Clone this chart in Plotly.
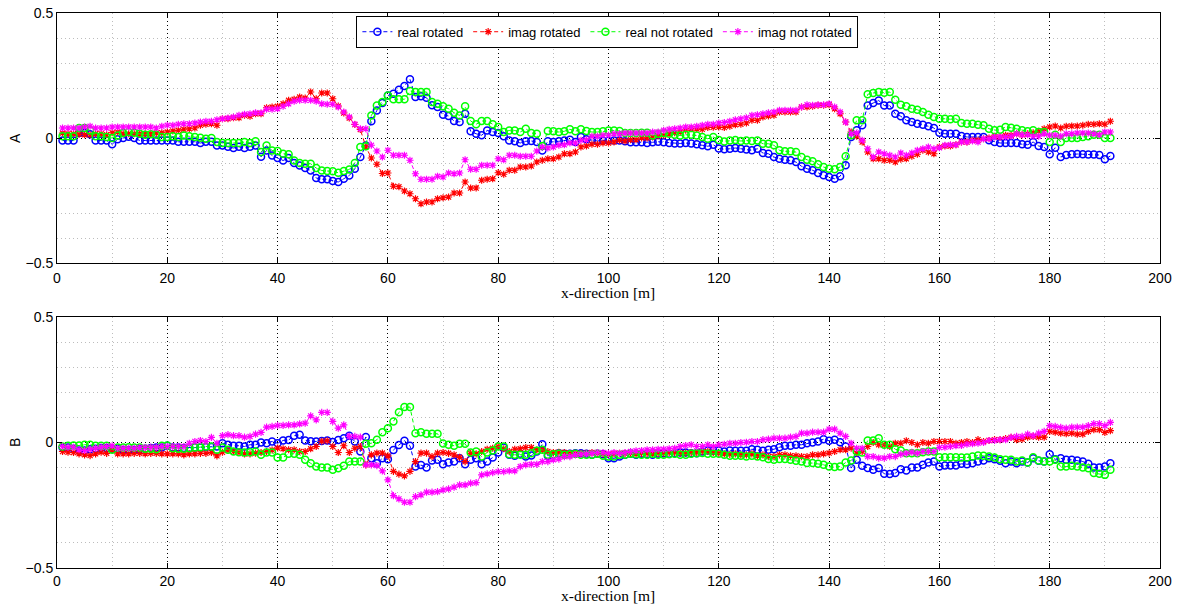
import plotly.graph_objects as go
from plotly.subplots import make_subplots

x_pos = list(range(1, 192))

# ---------------- Panel A ----------------
a_real_rot = [
    -0.01, -0.01, -0.01, 0.02, 0.02, 0.015, -0.01, -0.01, -0.01, -0.025,
    -0.005, 0.0, 0.005, 0.0, -0.01, -0.01, -0.01, -0.01, -0.01, -0.01,
    -0.01, -0.015, -0.015, -0.015, -0.015, -0.02, -0.015, -0.015, -0.03, -0.03,
    -0.035, -0.04, -0.035, -0.04, -0.035, -0.03, -0.075, -0.05, -0.07, -0.08,
    -0.09, -0.08, -0.1, -0.11, -0.12, -0.13, -0.16, -0.165, -0.165, -0.172,
    -0.176, -0.163, -0.15, -0.123, -0.076, -0.03, 0.067, 0.11, 0.14, 0.17,
    0.177, 0.193, 0.208, 0.235, 0.164, 0.167, 0.161, 0.131, 0.124, 0.093,
    0.088, 0.068, 0.064, 0.097, 0.027, 0.017, 0.011, 0.03, 0.024, 0.02,
    0.007, -0.01, -0.013, -0.02, -0.013, -0.012, -0.016, -0.05, -0.013, -0.016,
    -0.013, -0.01, -0.007, -0.016, 0.004, -0.005, -0.007, -0.012, -0.01, -0.01,
    -0.01, -0.01, -0.013, -0.017, -0.017, -0.017, -0.02, -0.017, -0.015, -0.017,
    -0.02, -0.022, -0.022, -0.02, -0.022, -0.025, -0.029, -0.033, -0.027, -0.042,
    -0.045, -0.043, -0.04, -0.043, -0.046, -0.049, -0.043, -0.06, -0.063, -0.076,
    -0.083, -0.087, -0.089, -0.096, -0.113, -0.123, -0.129, -0.14, -0.149, -0.156,
    -0.163, -0.153, -0.109, 0.004, 0.031, 0.051, 0.13, 0.14, 0.15, 0.13,
    0.13, 0.097, 0.087, 0.071, 0.064, 0.057, 0.053, 0.047, 0.04, 0.021,
    0.017, 0.017, 0.017, 0.008, 0.004, 0.004, 0.004, 0.004, -0.009, -0.016,
    -0.02, -0.02, -0.02, -0.02, -0.025, -0.027, -0.016, -0.032, -0.036, -0.065,
    -0.039, -0.076, -0.068, -0.065, -0.064, -0.065, -0.066, -0.066, -0.068, -0.085, -0.072,
]
a_imag_rot = [
    0.02, 0.017, 0.017, 0.015, 0.013, 0.013, 0.017, 0.017, 0.013, 0.021,
    0.024, 0.017, 0.017, 0.017, 0.017, 0.017, 0.017, 0.02, 0.021, 0.024,
    0.028, 0.031, 0.035, 0.037, 0.04, 0.051, 0.055, 0.057, 0.051, 0.077,
    0.077, 0.081, 0.081, 0.091, 0.087, 0.097, 0.097, 0.121, 0.124, 0.127,
    0.137, 0.151, 0.155, 0.164, 0.16, 0.184, 0.157, 0.18, 0.18, 0.157,
    0.128, 0.1, 0.08, 0.054, 0.034, -0.035, -0.08, -0.105, -0.142, -0.14,
    -0.193, -0.195, -0.212, -0.223, -0.243, -0.263, -0.256, -0.256, -0.243, -0.239,
    -0.236, -0.22, -0.22, -0.176, -0.2, -0.2, -0.169, -0.165, -0.163, -0.139,
    -0.145, -0.129, -0.129, -0.116, -0.116, -0.112, -0.096, -0.089, -0.083, -0.083,
    -0.076, -0.063, -0.063, -0.056, -0.036, -0.032, -0.025, -0.025, -0.02, -0.02,
    -0.016, -0.009, -0.012, -0.007, -0.007, 0.0, 0.0, 0.004, 0.008, 0.011,
    0.017, 0.021, 0.024, 0.031, 0.037, 0.037, 0.035, 0.042, 0.043, 0.044,
    0.042, 0.047, 0.053, 0.055, 0.06, 0.071, 0.071, 0.084, 0.088, 0.091,
    0.104, 0.104, 0.104, 0.104, 0.124, 0.124, 0.127, 0.131, 0.131, 0.133,
    0.117, 0.097, 0.064, 0.024, 0.007, -0.016, -0.056, -0.083, -0.083, -0.089,
    -0.089, -0.096, -0.085, -0.083, -0.073, -0.065, -0.049, -0.056, -0.063, -0.036,
    -0.032, -0.032, -0.027, -0.016, -0.016, -0.009, -0.009, -0.003, 0.0, 0.007,
    0.004, 0.011, 0.011, 0.017, 0.013, 0.017, 0.021, 0.027, 0.037, 0.044,
    0.048, 0.04, 0.047, 0.048, 0.048, 0.051, 0.055, 0.055, 0.057, 0.055, 0.067,
]
a_real_not = [
    0.007, 0.007, 0.007, 0.04, 0.04, 0.03, 0.007, 0.007, 0.004, 0.0,
    0.01, 0.02, 0.024, 0.021, 0.017, 0.013, 0.015, 0.013, 0.004, 0.004,
    0.007, 0.004, 0.01, 0.007, 0.004, 0.001, -0.003, 0.0, -0.016, -0.02,
    -0.02, -0.02, -0.02, -0.016, -0.02, -0.013, -0.056, -0.03, -0.05, -0.052,
    -0.063, -0.065, -0.09, -0.1, -0.103, -0.103, -0.12, -0.13, -0.132, -0.133,
    -0.139, -0.132, -0.126, -0.1, -0.036, -0.033, 0.09, 0.13, 0.144, 0.17,
    0.155, 0.155, 0.155, 0.188, 0.184, 0.184, 0.184, 0.144, 0.137, 0.127,
    0.117, 0.101, 0.09, 0.127, 0.068, 0.055, 0.068, 0.068, 0.055, 0.044,
    0.024, 0.03, 0.03, 0.024, 0.037, 0.02, 0.017, -0.032, 0.028, 0.027,
    0.024, 0.027, 0.035, 0.027, 0.035, 0.028, 0.024, 0.024, 0.027, 0.03,
    0.03, 0.028, 0.02, 0.02, 0.02, 0.021, 0.021, 0.01, 0.017, 0.02,
    0.017, 0.013, 0.01, 0.013, 0.013, 0.01, 0.004, -0.003, 0.004, -0.008,
    -0.014, -0.01, -0.008, -0.012, -0.01, -0.012, -0.01, -0.023, -0.023, -0.029,
    -0.049, -0.053, -0.053, -0.056, -0.076, -0.087, -0.093, -0.105, -0.116, -0.123,
    -0.125, -0.116, -0.073, 0.011, 0.071, 0.071, 0.175, 0.18, 0.184, 0.181,
    0.184, 0.153, 0.133, 0.127, 0.117, 0.113, 0.104, 0.093, 0.084, 0.077,
    0.077, 0.075, 0.077, 0.06, 0.057, 0.057, 0.053, 0.051, 0.037, 0.031,
    0.033, 0.044, 0.041, 0.037, 0.031, 0.027, 0.031, 0.024, 0.024, -0.016,
    0.013, -0.016, 0.0, 0.0, 0.0, 0.004, 0.007, 0.013, 0.013, 0.0, 0.0,
]
a_imag_not = [
    0.04, 0.04, 0.04, 0.04, 0.044, 0.047, 0.04, 0.04, 0.04, 0.044,
    0.044, 0.044, 0.044, 0.044, 0.044, 0.044, 0.044, 0.04, 0.047, 0.051,
    0.051, 0.055, 0.057, 0.057, 0.06, 0.064, 0.067, 0.067, 0.073, 0.077,
    0.08, 0.084, 0.091, 0.095, 0.097, 0.101, 0.101, 0.115, 0.115, 0.117,
    0.127, 0.137, 0.147, 0.151, 0.151, 0.151, 0.147, 0.137, 0.135, 0.135,
    0.124, 0.104, 0.084, 0.055, 0.037, 0.037, -0.029, -0.052, -0.076, -0.049,
    -0.069, -0.069, -0.069, -0.089, -0.143, -0.165, -0.165, -0.165, -0.153, -0.156,
    -0.14, -0.143, -0.14, -0.087, -0.125, -0.125, -0.109, -0.109, -0.109, -0.083,
    -0.087, -0.069, -0.069, -0.073, -0.073, -0.073, -0.052, -0.036, -0.04, -0.036,
    -0.029, -0.027, -0.02, -0.02, -0.009, -0.007, 0.007, 0.007, 0.011, 0.011,
    0.017, 0.017, 0.02, 0.02, 0.02, 0.02, 0.02, 0.024, 0.024, 0.031,
    0.035, 0.037, 0.04, 0.044, 0.044, 0.047, 0.051, 0.055, 0.055, 0.06,
    0.062, 0.067, 0.073, 0.077, 0.081, 0.091, 0.093, 0.097, 0.101, 0.104,
    0.111, 0.111, 0.111, 0.111, 0.124, 0.133, 0.131, 0.133, 0.133, 0.137,
    0.124, 0.104, 0.064, 0.017, 0.02, -0.009, -0.043, -0.076, -0.056, -0.063,
    -0.069, -0.076, -0.06, -0.069, -0.06, -0.049, -0.043, -0.036, -0.043, -0.039,
    -0.029, -0.027, -0.027, -0.016, -0.016, -0.012, -0.016, -0.003, -0.003, 0.004,
    0.004, 0.004, 0.007, 0.017, 0.013, 0.013, 0.007, 0.007, 0.017, 0.011,
    0.011, 0.007, 0.017, 0.017, 0.02, 0.02, 0.02, 0.017, 0.013, 0.024, 0.024,
]

# ---------------- Panel B ----------------
b_real_rot = [
    -0.02, -0.02, -0.025, -0.032, -0.032, -0.027, -0.025, -0.022, -0.022, -0.025,
    -0.025, -0.03, -0.03, -0.03, -0.027, -0.025, -0.022, -0.02, -0.02, -0.013,
    -0.02, -0.02, -0.022, -0.022, -0.02, -0.02, -0.018, -0.018, -0.016, -0.003,
    -0.009, -0.013, -0.013, -0.016, -0.009, -0.009, 0.0, -0.003, 0.004, -0.003,
    0.008, 0.01, 0.027, 0.031, 0.008, 0.005, 0.004, 0.006, 0.008, 0.002,
    0.01, 0.017, 0.027, 0.004, -0.036, 0.022, -0.063, -0.083, -0.063, -0.067,
    -0.03, -0.01, 0.007, -0.013, -0.096, -0.09, -0.1, -0.072, -0.069, -0.087,
    -0.08, -0.076, -0.063, -0.087, -0.069, -0.063, -0.087, -0.076, -0.06, -0.04,
    -0.02, -0.049, -0.053, -0.045, -0.056, -0.052, -0.036, -0.007, -0.053, -0.049,
    -0.043, -0.045, -0.045, -0.043, -0.043, -0.045, -0.049, -0.045, -0.047, -0.063,
    -0.063, -0.056, -0.049, -0.045, -0.049, -0.045, -0.047, -0.049, -0.045, -0.043,
    -0.045, -0.043, -0.04, -0.04, -0.043, -0.043, -0.036, -0.032, -0.033, -0.032,
    -0.036, -0.032, -0.033, -0.033, -0.033, -0.027, -0.029, -0.033, -0.029, -0.027,
    -0.019, -0.013, -0.013, -0.009, -0.009, -0.003, 0.0, 0.004, 0.013, 0.007,
    0.011, 0.001, -0.016, -0.102, -0.069, -0.093, -0.102, -0.109, -0.102, -0.125,
    -0.126, -0.122, -0.107, -0.112, -0.1, -0.1, -0.089, -0.08, -0.076, -0.096,
    -0.092, -0.092, -0.092, -0.085, -0.087, -0.083, -0.076, -0.072, -0.063, -0.067,
    -0.073, -0.083, -0.076, -0.083, -0.076, -0.08, -0.063, -0.073, -0.076, -0.047,
    -0.067, -0.063, -0.069, -0.069, -0.072, -0.076, -0.085, -0.1, -0.1, -0.096, -0.083,
]
b_imag_rot = [
    -0.036, -0.039, -0.04, -0.045, -0.049, -0.052, -0.045, -0.039, -0.043, -0.029,
    -0.045, -0.045, -0.045, -0.043, -0.043, -0.045, -0.043, -0.043, -0.045, -0.045,
    -0.045, -0.045, -0.049, -0.045, -0.045, -0.043, -0.043, -0.04, -0.053, -0.039,
    -0.032, -0.036, -0.04, -0.045, -0.045, -0.042, -0.04, -0.036, -0.03, -0.022,
    -0.025, -0.029, -0.029, -0.036, -0.036, -0.025, -0.016, 0.005, 0.007, -0.016,
    -0.04, -0.013, -0.04, -0.023, -0.016, -0.089, -0.049, -0.042, -0.042, -0.053,
    -0.115, -0.126, -0.133, -0.115, -0.076, -0.042, -0.042, -0.056, -0.042, -0.04,
    -0.043, -0.049, -0.059, -0.076, -0.043, -0.045, -0.036, -0.027, -0.023, -0.016,
    -0.025, -0.036, -0.027, -0.025, -0.02, -0.02, -0.029, -0.029, -0.036, -0.04,
    -0.039, -0.04, -0.043, -0.043, -0.043, -0.043, -0.04, -0.043, -0.045, -0.047,
    -0.045, -0.043, -0.043, -0.043, -0.045, -0.043, -0.043, -0.045, -0.043, -0.043,
    -0.04, -0.04, -0.042, -0.042, -0.04, -0.04, -0.036, -0.036, -0.04, -0.043,
    -0.045, -0.047, -0.045, -0.049, -0.049, -0.045, -0.053, -0.049, -0.056, -0.056,
    -0.049, -0.049, -0.053, -0.053, -0.056, -0.056, -0.049, -0.049, -0.045, -0.042,
    -0.036, -0.029, -0.029, -0.023, -0.042, -0.036, -0.016, 0.0, -0.009, -0.009,
    -0.016, -0.003, -0.003, 0.007, 0.0, -0.009, 0.0, -0.003, 0.004, 0.004,
    0.004, 0.004, -0.003, 0.0, 0.004, 0.0, 0.011, 0.004, 0.008, 0.011,
    0.011, 0.015, 0.02, 0.011, 0.013, 0.021, 0.024, 0.021, 0.021, 0.044,
    0.041, 0.037, 0.035, 0.037, 0.033, 0.033, 0.044, 0.051, 0.051, 0.04, 0.047,
]
b_real_not = [
    -0.016, -0.013, -0.012, -0.012, -0.009, -0.009, -0.013, -0.013, -0.013, -0.029,
    -0.02, -0.02, -0.019, -0.02, -0.02, -0.025, -0.025, -0.027, -0.013, -0.012,
    -0.023, -0.025, -0.025, -0.023, -0.02, -0.019, -0.016, -0.016, -0.029, -0.02,
    -0.029, -0.036, -0.039, -0.04, -0.039, -0.036, -0.049, -0.04, -0.04, -0.06,
    -0.06, -0.045, -0.045, -0.049, -0.069, -0.083, -0.096, -0.1, -0.1, -0.109,
    -0.103, -0.093, -0.076, -0.076, -0.076, -0.005, -0.003, 0.011, 0.041, 0.057,
    0.084, 0.12, 0.141, 0.141, 0.037, 0.041, 0.035, 0.035, 0.035, -0.004,
    -0.009, -0.013, -0.005, -0.005, -0.04, -0.036, -0.056, -0.04, -0.032, -0.016,
    -0.016, -0.047, -0.049, -0.049, -0.049, -0.043, -0.033, -0.029, -0.049, -0.047,
    -0.045, -0.049, -0.047, -0.045, -0.049, -0.049, -0.049, -0.045, -0.053, -0.056,
    -0.056, -0.049, -0.049, -0.045, -0.047, -0.049, -0.049, -0.045, -0.049, -0.049,
    -0.047, -0.045, -0.049, -0.049, -0.045, -0.043, -0.042, -0.045, -0.045, -0.045,
    -0.049, -0.053, -0.053, -0.053, -0.056, -0.053, -0.056, -0.059, -0.066, -0.069,
    -0.066, -0.066, -0.069, -0.073, -0.076, -0.082, -0.082, -0.085, -0.089, -0.096,
    -0.098, -0.096, -0.08, -0.072, -0.036, -0.04, 0.008, 0.008, 0.017, -0.009,
    -0.009, -0.027, -0.032, -0.043, -0.043, -0.043, -0.039, -0.036, -0.036, -0.059,
    -0.059, -0.059, -0.059, -0.06, -0.06, -0.056, -0.052, -0.053, -0.056, -0.06,
    -0.067, -0.069, -0.069, -0.076, -0.072, -0.08, -0.059, -0.072, -0.076, -0.076,
    -0.069, -0.096, -0.096, -0.093, -0.096, -0.1, -0.103, -0.122, -0.125, -0.129, -0.109,
]
b_imag_not = [
    -0.016, -0.019, -0.019, -0.029, -0.032, -0.027, -0.023, -0.019, -0.016, -0.013,
    -0.023, -0.023, -0.023, -0.023, -0.02, -0.02, -0.019, -0.019, -0.016, -0.016,
    -0.016, -0.016, -0.016, -0.003, 0.004, 0.008, 0.004, 0.02, -0.003, 0.027,
    0.031, 0.027, 0.027, 0.021, 0.024, 0.033, 0.04, 0.061, 0.064, 0.068,
    0.068, 0.07, 0.07, 0.074, 0.077, 0.106, 0.09, 0.12, 0.12, 0.084,
    0.057, 0.07, 0.024, 0.024, 0.021, -0.089, -0.089, -0.092, -0.113, -0.149,
    -0.212, -0.225, -0.238, -0.238, -0.216, -0.209, -0.198, -0.198, -0.196, -0.189,
    -0.185, -0.178, -0.169, -0.169, -0.162, -0.16, -0.129, -0.125, -0.12, -0.116,
    -0.116, -0.113, -0.113, -0.096, -0.089, -0.087, -0.087, -0.076, -0.076, -0.069,
    -0.066, -0.056, -0.056, -0.049, -0.047, -0.045, -0.043, -0.04, -0.04, -0.043,
    -0.04, -0.043, -0.04, -0.036, -0.033, -0.032, -0.029, -0.029, -0.027, -0.027,
    -0.025, -0.023, -0.016, -0.012, -0.009, -0.016, -0.016, -0.009, -0.016, -0.009,
    -0.007, -0.003, -0.003, 0.0, 0.001, 0.004, 0.004, 0.011, 0.013, 0.017,
    0.017, 0.017, 0.021, 0.024, 0.037, 0.037, 0.041, 0.041, 0.041, 0.053,
    0.053, 0.037, 0.024, -0.003, -0.023, -0.023, -0.056, -0.056, -0.062, -0.062,
    -0.056, -0.056, -0.047, -0.043, -0.039, -0.043, -0.036, -0.036, -0.036, -0.02,
    -0.019, -0.016, -0.013, -0.012, -0.007, -0.005, -0.003, 0.0, 0.008, 0.008,
    0.011, 0.011, 0.02, 0.024, 0.024, 0.033, 0.027, 0.037, 0.044, 0.067,
    0.064, 0.06, 0.057, 0.061, 0.061, 0.061, 0.067, 0.075, 0.075, 0.067, 0.08,
]

series_names = ["real rotated", "imag rotated", "real not rotated", "imag not rotated"]
series_colors = ["#0000ff", "#ff0000", "#00ff00", "#ff00ff"]
series_symbols = ["circle-open", "asterisk-open", "circle-open", "asterisk-open"]
series_sizes = [7, 6, 7, 6]
series_mwidth = [1.5, 1.2, 1.5, 1.2]

x_ticks = [0, 20, 40, 60, 80, 100, 120, 140, 160, 180, 200]
y_ticks = [-0.5, 0, 0.5]
y_tick_text = ["\u22120.5", "0", "0.5"]
x_label = "x-direction [m]"
panel_labels = ["A", "B"]

panel_a = [a_real_rot, a_imag_rot, a_real_not, a_imag_not]
panel_b = [b_real_rot, b_imag_rot, b_real_not, b_imag_not]

fig = make_subplots(rows=2, cols=1, vertical_spacing=0.0972)

for row, panel in ((1, panel_a), (2, panel_b)):
    for i, ys in enumerate(panel):
        fig.add_trace(
            go.Scatter(
                x=x_pos[:len(ys)], y=ys, mode="lines+markers",
                name=series_names[i], showlegend=(row == 1),
                line=dict(color=series_colors[i], width=1, dash="4px,3px"),
                marker=dict(symbol=series_symbols[i], size=series_sizes[i],
                            color=series_colors[i],
                            line=dict(color=series_colors[i], width=series_mwidth[i])),
            ),
            row=row, col=1,
        )

axis_font = dict(family="Liberation Sans, Arial, sans-serif", size=14, color="black")
for r in (1, 2):
    fig.update_xaxes(
        range=[0, 200], tickvals=x_ticks, ticktext=[str(v) for v in x_ticks],
        showline=True, linecolor="black", linewidth=1, mirror="ticks",
        ticks="inside", ticklen=5, tickcolor="black", tickfont=axis_font,
        ticklabelstandoff=2 if r == 1 else 0,
        showgrid=True, gridcolor="#000000", gridwidth=1, griddash="1px,3px",
        minor=dict(dtick=10, tick0=0, showgrid=True, gridcolor="#bdbdbd",
                   griddash="1px,3px", gridwidth=1, ticks=""),
        zeroline=False, automargin=False,
        row=r, col=1,
    )
    fig.update_yaxes(
        range=[-0.5, 0.5], tickvals=y_ticks, ticktext=y_tick_text,
        showline=True, linecolor="black", linewidth=1, mirror="ticks",
        ticks="inside", ticklen=5, tickcolor="black", tickfont=axis_font,
        showgrid=True, gridcolor="#000000", gridwidth=1, griddash="1px,3px",
        minor=dict(dtick=0.1, tick0=0, showgrid=True, gridcolor="#bdbdbd",
                   griddash="1px,3px", gridwidth=1, ticks=""),
        zeroline=False, automargin=False,
        row=r, col=1,
    )

serif = dict(family="Liberation Serif, DejaVu Serif, serif", size=15.5, color="black")
annotations = [
    dict(text=x_label, x=0.4995, y=0.4955, xref="paper", yref="paper",
         xanchor="center", yanchor="middle", showarrow=False, font=serif),
    dict(text=x_label, x=0.4995, y=-0.0667, xref="paper", yref="paper",
         xanchor="center", yanchor="bottom", showarrow=False, font=serif, borderpad=0),
]
for label, y_pos in zip(panel_labels, (0.775, 0.2252)):
    annotations.append(dict(text=label, x=-0.038, y=y_pos, xref="paper", yref="paper",
                            xanchor="center", yanchor="middle", showarrow=False,
                            textangle=-90, font=axis_font))

fig.update_layout(
    width=1181, height=605,
    margin=dict(l=57, r=21, t=13, b=37, autoexpand=False),
    paper_bgcolor="white", plot_bgcolor="white",
    showlegend=True,
    annotations=annotations,
    legend=dict(orientation="h", x=0.499, xanchor="center", y=0.995, yanchor="top",
                bgcolor="white", bordercolor="black", borderwidth=1,
                font=dict(family="Liberation Sans, Arial, sans-serif", size=13, color="black"),
                itemwidth=30, tracegroupgap=0, valign="middle"),
)
fig.update_yaxes(domain=[0.5495, 1.0], row=1, col=1)
fig.update_yaxes(domain=[0.0, 0.4523], row=2, col=1)

fig.write_html("out.html")
